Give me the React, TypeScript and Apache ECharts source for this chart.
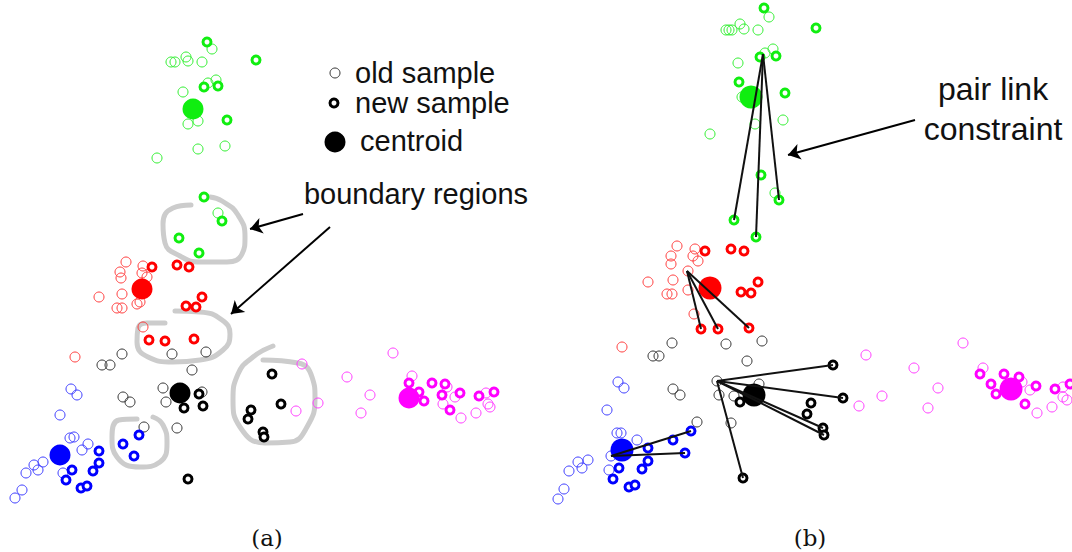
import React, { useEffect, useRef } from "react";
import * as echarts from "echarts";

// ---------- Panel (a) ----------
const aGreenOld = [[212,49],[171,62],[175,62],[186,57],[188,61],[202,62],[216,80],[208,83],[183,92],[188,124],[198,121],[198,149],[225,146],[157,158],[218,213]];
const aGreenNew = [[256,60],[204,87],[218,86],[227,120],[207,42],[204,197],[222,221],[179,238],[199,253]];
const aGreenCentroid = [[193,109]];
const aRedOld = [[126,262],[120,272],[121,278],[143,266],[142,273],[147,277],[99,297],[122,294],[117,308],[122,308],[137,304],[140,302],[143,327],[75,357]];
const aRedNew = [[152,267],[177,265],[189,267],[202,297],[186,306],[196,307],[149,340],[165,341],[194,339]];
const aRedCentroid = [[142,289]];
const aBlackOld = [[122,354],[172,354],[206,352],[102,365],[110,365],[192,370],[163,388],[202,392],[166,402],[123,397],[130,402],[144,427],[177,428]];
const aBlackNew = [[199,394],[184,408],[203,406],[272,374],[281,404],[251,410],[248,419],[263,432],[264,437],[188,479]];
const aBlackCentroid = [[180,393]];
const aBlueOld = [[71,389],[77,395],[60,415],[70,438],[74,437],[88,444],[82,450],[43,462],[34,465],[38,470],[26,473],[63,473],[22,490],[15,498]];
const aBlueNew = [[139,435],[123,444],[134,456],[99,451],[99,463],[93,471],[72,470],[66,480],[81,488],[87,486]];
const aBlueCentroid = [[60,455]];
const aMagentaOld = [[302,364],[318,403],[296,411],[347,377],[393,353],[370,395],[361,413],[412,376],[455,397],[443,404],[461,418],[476,413],[486,393],[488,404],[490,407],[447,387]];
const aMagentaNew = [[409,383],[419,392],[424,401],[432,383],[445,384],[442,395],[450,410],[460,393],[479,396],[494,392]];
const aMagentaCentroid = [[409,398]];

const loopGreen = [[191,205],[173,208],[163,224],[165,243],[180,256],[200,262],[227,262],[242,254],[245,237],[238,215],[222,201],[210,197]];
const loopRed = [[175,311],[200,312],[222,320],[230,334],[223,350],[200,360],[173,362],[148,357],[137,342],[138,328],[147,323],[165,323]];
const loopBlack = [[273,346],[253,357],[238,374],[233,400],[240,427],[265,443],[290,442],[307,427],[315,398],[312,377],[298,363],[263,360]];
const loopBlue = [[137,419],[119,420],[112,437],[117,457],[140,467],[160,462],[167,443],[163,425],[153,417]];

const aArrows = [
  [[303,214],[250,229]],
  [[330,227],[231,314]],
];

// legend markers (a)
const legendOld = [[335,73]];
const legendNew = [[334,103]];
const legendCentroid = [[335,142]];

// ---------- Panel (b) ----------
const bGreenOld = [[769,17],[726,30],[729,30],[732,30],[740,24],[744,29],[758,30],[773,49],[765,53],[738,63],[742,97],[755,124],[783,120],[710,134],[775,193]];
const bGreenNew = [[764,8],[816,28],[760,57],[776,56],[739,82],[785,93],[761,175],[779,200],[734,220],[756,237]];
const bGreenCentroid = [[751,97]];
const bRedOld = [[677,246],[695,249],[671,256],[693,256],[698,261],[671,264],[688,271],[673,280],[648,282],[688,290],[667,294],[672,294],[694,314],[622,347]];
const bRedNew = [[705,251],[731,249],[744,251],[758,282],[741,292],[751,293],[701,329],[718,329],[749,328]];
const bRedCentroid = [[710,288]];
const bBlackOld = [[672,343],[726,344],[762,341],[653,356],[659,356],[747,361],[717,381],[673,389],[680,395],[719,395],[734,396],[759,384],[731,423],[697,422]];
const bBlackNew = [[833,365],[843,398],[811,403],[807,414],[823,428],[824,435],[740,402],[743,478]];
const bBlackCentroid = [[754,395]];
const bBlueOld = [[618,382],[624,388],[607,410],[617,433],[621,433],[637,440],[611,456],[588,460],[578,462],[582,468],[569,471],[609,470],[564,489],[558,499]];
const bBlueNew = [[691,431],[673,440],[685,453],[648,448],[648,461],[642,469],[619,468],[613,479],[629,487],[635,485]];
const bBlueCentroid = [[622,450]];
const bMagentaOld = [[866,355],[914,368],[882,396],[859,406],[938,388],[928,408],[963,343],[983,368],[1030,390],[1037,413],[1052,407],[1063,387],[1063,397],[1067,400],[1022,382]];
const bMagentaNew = [[980,374],[991,384],[996,394],[1004,374],[1019,377],[1036,386],[1025,404],[1055,389],[1070,384]];
const bMagentaCentroid = [[1011,389]];

const bLinks = [
  [[763,54],[734,220]],
  [[763,54],[756,237]],
  [[763,54],[779,200]],
  [[687,271],[701,329]],
  [[687,271],[718,329]],
  [[687,271],[749,328]],
  [[717,381],[833,365]],
  [[717,381],[843,398]],
  [[717,381],[823,428]],
  [[717,381],[824,435]],
  [[717,381],[743,478]],
  [[611,456],[691,431]],
  [[611,456],[685,453]],
];
const bArrows = [[[915,120],[788,155]]];

const GREEN = "#10ee10";
const RED = "#ff0000";
const BLUE = "#0000ff";
const MAGENTA = "#ff00ff";
const BLACK = "#000000";
const GREEN_L = "#30f030";
const RED_L = "#ff3c3c";
const BLUE_L = "#3c3cff";
const MAGENTA_L = "#ff3cff";
const BLACK_L = "#333333";

function oldS(data: number[][], color: string): any {
  return {
    type: "scatter", data, symbol: "circle", symbolSize: 10, z: 3,
    itemStyle: { color: "rgba(255,255,255,0)", borderColor: color, borderWidth: 1, opacity: 1 },
    silent: true,
  };
}
function newS(data: number[][], color: string): any {
  return {
    type: "scatter", data, symbol: "circle", symbolSize: 8, z: 4,
    itemStyle: { color: "#ffffff", borderColor: color, borderWidth: 3, opacity: 1 },
    silent: true,
  };
}
function centS(data: number[][], color: string, size: number): any {
  return {
    type: "scatter", data, symbol: "circle", symbolSize: size, z: 5,
    itemStyle: { color, borderWidth: 0, opacity: 1 },
    silent: true,
  };
}
function loopS(data: number[][]): any {
  return {
    type: "line", data, smooth: 0.5, symbol: "none", z: 1,
    lineStyle: { color: "#cccccc", width: 5, cap: "round" },
    silent: true,
  };
}

export default function App() {
  const ref = useRef<HTMLDivElement>(null);
  useEffect(() => {
    document.body.style.margin = "0";
    const chart = echarts.init(ref.current!, undefined, { renderer: "svg" });
    const text = (x: number, y: number, t: string, size: number, align = "left", font = "Liberation Sans, Arial, sans-serif") => ({
      type: "text", x, y,
      style: { text: t, fontSize: size, fontFamily: font, fill: "#111", textAlign: align, textVerticalAlign: "middle" },
    });
    chart.setOption({
      animation: false,
      backgroundColor: "#ffffff",
      grid: { left: 0, right: 0, top: 0, bottom: 0 },
      xAxis: { type: "value", min: 0, max: 1072, show: false },
      yAxis: { type: "value", min: 0, max: 552, inverse: true, show: false },
      series: [
        loopS(loopGreen), loopS(loopRed), loopS(loopBlack), loopS(loopBlue),
        {
          type: "lines", coordinateSystem: "cartesian2d", z: 2, silent: true,
          symbol: ["none", "arrow"], symbolSize: 12,
          lineStyle: { color: "#000", width: 2, opacity: 1 },
          data: [...aArrows, ...bArrows].map((c) => ({ coords: c })),
        },
        {
          type: "lines", coordinateSystem: "cartesian2d", z: 6, silent: true,
          lineStyle: { color: "#111", width: 2, opacity: 1 },
          data: bLinks.map((c) => ({ coords: c })),
        },
        oldS(aGreenOld, GREEN_L), newS(aGreenNew, GREEN), centS(aGreenCentroid, GREEN, 21),
        oldS(aRedOld, RED_L), newS(aRedNew, RED), centS(aRedCentroid, RED, 21),
        oldS(aBlackOld, BLACK_L), newS(aBlackNew, BLACK), centS(aBlackCentroid, BLACK, 21),
        oldS(aBlueOld, BLUE_L), newS(aBlueNew, BLUE), centS(aBlueCentroid, BLUE, 21),
        oldS(aMagentaOld, MAGENTA_L), newS(aMagentaNew, MAGENTA), centS(aMagentaCentroid, MAGENTA, 21),
        oldS(legendOld, BLACK_L), newS(legendNew, BLACK), centS(legendCentroid, BLACK, 21),
        oldS(bGreenOld, GREEN_L), newS(bGreenNew, GREEN), centS(bGreenCentroid, GREEN, 23),
        oldS(bRedOld, RED_L), newS(bRedNew, RED), centS(bRedCentroid, RED, 23),
        oldS(bBlackOld, BLACK_L), newS(bBlackNew, BLACK), centS(bBlackCentroid, BLACK, 23),
        oldS(bBlueOld, BLUE_L), newS(bBlueNew, BLUE), centS(bBlueCentroid, BLUE, 23),
        oldS(bMagentaOld, MAGENTA_L), newS(bMagentaNew, MAGENTA), centS(bMagentaCentroid, MAGENTA, 23),
      ],
      graphic: [
        text(355, 73, "old sample", 29),
        text(355, 103, "new sample", 29),
        text(360, 141, "centroid", 29),
        text(416, 194, "boundary regions", 29, "center"),
        text(993, 89, "pair link", 32, "center"),
        text(993, 129, "constraint", 32, "center"),
        text(267, 538, "(a)", 23, "center", "DejaVu Serif, Liberation Serif, serif"),
        text(810, 538, "(b)", 23, "center", "DejaVu Serif, Liberation Serif, serif"),
      ],
    });
    return () => chart.dispose();
  }, []);
  return <div ref={ref} style={{ width: 1072, height: 552 }} />;
}
